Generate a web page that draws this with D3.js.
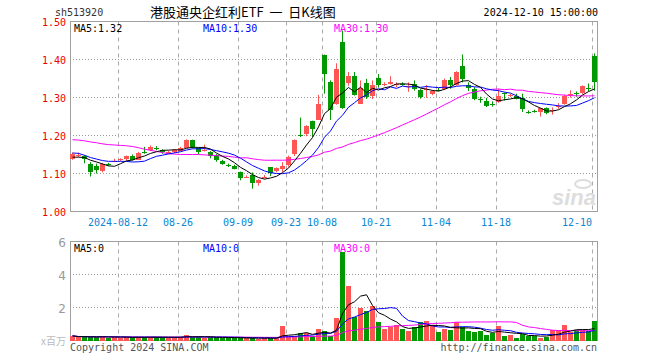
<!DOCTYPE html>
<html>
<head>
<meta charset="utf-8">
<script src="https://cdn.jsdelivr.net/npm/d3@7"></script>
<style>
  body { margin: 0; background: #fff; }
  svg text { font-family: "DejaVu Sans Mono", monospace; font-size: 10px; }
</style>
</head>
<body>
<div id="chart"></div>
<script>
// daily candles, 2024-07-31 .. 2024-12-10
var dates = ["07-31","08-01","08-02","08-05","08-06","08-07","08-08","08-09","08-12","08-13",
  "08-14","08-15","08-16","08-19","08-20","08-21","08-22","08-23","08-26","08-27",
  "08-28","08-29","08-30","09-02","09-03","09-04","09-05","09-06","09-09","09-10",
  "09-11","09-12","09-13","09-18","09-19","09-20","09-23","09-24","09-25","09-26",
  "09-27","09-30","10-08","10-09","10-10","10-11","10-14","10-15","10-16","10-17",
  "10-18","10-21","10-22","10-23","10-24","10-25","10-28","10-29","10-30","10-31",
  "11-01","11-04","11-05","11-06","11-07","11-08","11-11","11-12","11-13","11-14",
  "11-15","11-18","11-19","11-20","11-21","11-22","11-25","11-26","11-27","11-28",
  "11-29","12-02","12-03","12-04","12-05","12-06","12-09","12-10"]
var opens = [1.139,1.149,1.146,1.124,1.119,1.108,1.125,1.133,1.136,1.136,
  1.147,1.137,1.157,1.162,1.168,1.162,1.156,1.156,1.161,1.169,
  1.187,1.166,1.161,1.157,1.149,1.134,1.122,1.121,1.103,1.091,
  1.095,1.075,1.091,1.117,1.105,1.112,1.121,1.150,1.201,1.204,
  1.239,1.241,1.413,1.340,1.283,1.447,1.338,1.356,1.285,1.338,
  1.305,1.352,1.334,1.336,1.334,1.336,1.328,1.336,1.320,1.322,
  1.308,1.321,1.323,1.347,1.333,1.382,1.334,1.323,1.296,1.292,
  1.284,1.288,1.311,1.305,1.305,1.298,1.261,1.265,1.261,1.272,
  1.265,1.277,1.283,1.308,1.311,1.311,1.325,1.408]
var closes = [1.152,1.150,1.139,1.103,1.108,1.126,1.124,1.134,1.137,1.145,
  1.137,1.155,1.156,1.171,1.167,1.156,1.157,1.162,1.168,1.189,
  1.169,1.155,1.162,1.147,1.136,1.125,1.121,1.113,1.086,1.092,
  1.073,1.083,1.092,1.101,1.114,1.121,1.143,1.187,1.200,1.224,
  1.219,1.283,1.362,1.266,1.374,1.274,1.356,1.305,1.326,1.301,
  1.333,1.333,1.335,1.342,1.335,1.335,1.329,1.323,1.301,1.323,
  1.317,1.320,1.347,1.333,1.367,1.349,1.326,1.297,1.295,1.279,
  1.283,1.303,1.310,1.306,1.297,1.268,1.260,1.264,1.272,1.259,
  1.266,1.278,1.305,1.309,1.310,1.330,1.324,1.340]
var highs = [1.155,1.155,1.148,1.130,1.126,1.128,1.128,1.139,1.140,1.147,
  1.150,1.157,1.170,1.174,1.172,1.164,1.160,1.164,1.170,1.190,
  1.189,1.168,1.176,1.159,1.151,1.136,1.126,1.123,1.105,1.095,
  1.103,1.085,1.096,1.117,1.116,1.130,1.147,1.190,1.247,1.227,
  1.239,1.307,1.413,1.345,1.390,1.476,1.367,1.367,1.345,1.349,
  1.345,1.362,1.340,1.356,1.340,1.340,1.340,1.345,1.322,1.333,
  1.320,1.325,1.350,1.354,1.369,1.413,1.340,1.327,1.302,1.299,
  1.290,1.323,1.313,1.310,1.310,1.310,1.266,1.268,1.272,1.274,
  1.274,1.285,1.307,1.319,1.316,1.332,1.337,1.416]
var lows = [1.136,1.143,1.127,1.092,1.100,1.103,1.120,1.130,1.133,1.134,
  1.134,1.135,1.152,1.159,1.161,1.152,1.152,1.154,1.159,1.167,
  1.166,1.151,1.158,1.140,1.131,1.123,1.117,1.111,1.082,1.088,
  1.060,1.068,1.087,1.093,1.103,1.104,1.118,1.146,1.196,1.198,
  1.196,1.241,1.310,1.241,1.281,1.270,1.331,1.305,1.283,1.296,
  1.296,1.326,1.330,1.334,1.327,1.331,1.315,1.318,1.297,1.299,
  1.306,1.317,1.320,1.323,1.331,1.340,1.317,1.293,1.286,1.275,
  1.276,1.286,1.292,1.301,1.295,1.262,1.257,1.260,1.250,1.256,
  1.255,1.270,1.281,1.300,1.302,1.309,1.316,1.318]
// volume, millions
var volumes = [0.28,0.20,0.22,0.20,0.20,0.28,0.18,0.20,0.18,0.20,
  0.20,0.20,0.20,0.20,0.20,0.20,0.18,0.20,0.20,0.36,
  0.20,0.20,0.18,0.20,0.20,0.18,0.15,0.15,0.15,0.15,
  0.15,0.12,0.15,0.15,0.15,0.85,0.30,0.30,0.48,0.48,
  0.30,0.67,0.55,0.25,1.35,5.35,3.33,1.45,1.96,1.76,
  2.12,1.11,0.69,0.81,0.91,0.69,0.57,0.81,1.11,1.21,
  0.91,0.50,0.67,0.63,1.15,0.81,0.57,0.50,0.55,0.36,
  0.48,0.85,0.30,0.36,0.18,0.38,0.30,0.28,0.18,0.22,
  0.61,0.61,0.91,0.50,0.65,0.65,0.60,1.21]
// moving averages for the first days (their windows start before the chart)
var ma5Head = [1.143,1.143,1.142,1.135]
var ma10Head = [1.154,1.153,1.148,1.142,1.138,1.134,1.132,1.132,1.132]
var ma30Head = [1.189,1.188,1.186,1.183,1.181,1.178,1.176,1.175,1.174,1.173,
  1.171,1.168,1.164,1.161,1.158,1.155,1.152,1.151,1.150,1.150,
  1.150,1.150,1.149,1.148,1.147,1.146,1.145,1.143,1.141]
var tickDates = ["08-12","08-26","09-09","09-23","10-08","10-21","11-04","11-18","12-10"]
var tickLabels = ["2024-08-12","08-26","09-09","09-23","10-08","10-21","11-04","11-18","12-10"]
var priceTicks = [1.0, 1.1, 1.2, 1.3, 1.4, 1.5]
var volTicks = [2, 4, 6]

var W = 660, H = 360
var UP = "#ff5555", DOWN = "#009900"
var MA_COL = {5: "#000000", 10: "#0000ff", 30: "#ff00ff"}

function movAvg(arr, n, head) {
  return arr.map(function(v, i) {
    if (i >= n - 1) return d3.mean(arr.slice(i - n + 1, i + 1))
    if (head) return head[i]
    return d3.mean(arr.slice(0, i + 1))
  })
}

var svg = d3.select("#chart").append("svg").attr("width", W).attr("height", H)

var x = d3.scaleBand().domain(dates).range([70, 598]).padding(0)
var y = d3.scaleLinear().domain([1.0, 1.5]).range([211.5, 21.5])
var yv = d3.scaleLinear().domain([0, 6]).range([340.5, 241.5])

var idx = d3.range(dates.length)
function colorOf(i) { return closes[i] >= opens[i] ? UP : DOWN }

// header
svg.append("text").attr("x", 55).attr("y", 16).attr("fill", "#333").text("sh513920")
svg.append("text").attr("x", 150).attr("y", 17)
  .style("font-family", "'Noto Sans CJK SC', sans-serif").style("font-size", "13px")
  .text("港股通央企红利ETF\u00a0\u00a0一\u00a0\u00a0日K线图")
svg.append("text").attr("x", 598).attr("y", 16).attr("text-anchor", "end").text("2024-12-10 15:00:00")

function panel(top, bottom, yScale, ticks) {
  var g = svg.append("g")
  g.selectAll(".hg").data(ticks.filter(function(t) { return yScale(t) > top + 1 && yScale(t) < bottom - 1 }))
    .enter().append("line")
    .attr("x1", 70).attr("x2", 597).attr("y1", function(t) { return yScale(t) }).attr("y2", function(t) { return yScale(t) })
    .attr("stroke", "#999").attr("stroke-dasharray", "1,2")
  g.selectAll(".vg").data(tickDates).enter().append("line")
    .attr("x1", function(d) { return x(d) + 0.5 }).attr("x2", function(d) { return x(d) + 0.5 })
    .attr("y1", top).attr("y2", bottom)
    .attr("stroke", "#aaa").attr("stroke-dasharray", "4,4")
  g.append("rect").attr("x", 70.5).attr("y", top).attr("width", 527).attr("height", bottom - top)
    .attr("fill", "none").attr("stroke", "#a0a0a0")
}
panel(21.5, 211.5, y, priceTicks)
panel(241.5, 340.5, yv, volTicks)

// price labels
svg.selectAll(".pl").data(priceTicks).enter().append("text")
  .attr("x", 66).attr("y", function(t) { return y(t) + 4 }).attr("text-anchor", "end")
  .attr("fill", "#ee0000").text(function(t) { return t.toFixed(2) })

// date labels
svg.selectAll(".dl").data(tickDates).enter().append("text")
  .attr("x", function(d, i) { return Math.min(x(d), 592 - tickLabels[i].length * 3) })
  .attr("y", 226).attr("text-anchor", "middle").attr("fill", "#0a86d2")
  .text(function(d, i) { return tickLabels[i] })

// watermark
svg.append("text").attr("x", 596).attr("y", 205).attr("text-anchor", "end")
  .style("font-family", "'Liberation Sans', sans-serif").style("font-size", "22px")
  .style("font-weight", "bold").style("font-style", "italic").attr("fill", "#dddddd").text("sina")
svg.append("ellipse").attr("cx", 583).attr("cy", 184).attr("rx", 8).attr("ry", 4)
  .attr("fill", "none").attr("stroke", "#dddddd").attr("stroke-width", 2)

// candles
var c = svg.append("g")
c.selectAll(".wick").data(idx).enter().append("line")
  .attr("x1", function(i) { return x(dates[i]) + 2.5 }).attr("x2", function(i) { return x(dates[i]) + 2.5 })
  .attr("y1", function(i) { return y(highs[i]) }).attr("y2", function(i) { return y(lows[i]) })
  .attr("stroke", colorOf)
c.selectAll(".body").data(idx).enter().append("rect")
  .attr("x", function(i) { return x(dates[i]) })
  .attr("y", function(i) { return Math.round(y(Math.max(opens[i], closes[i]))) })
  .attr("width", 5)
  .attr("height", function(i) { return Math.max(1, Math.round(Math.abs(y(opens[i]) - y(closes[i])))) })
  .attr("fill", colorOf).attr("shape-rendering", "crispEdges")

// price MAs
var ma = {5: movAvg(closes, 5, ma5Head), 10: movAvg(closes, 10, ma10Head), 30: movAvg(closes, 30, ma30Head)}
var line = d3.line().x(function(i) { return x(dates[i]) + 2.5 })
;[30, 10, 5].forEach(function(n) {
  svg.append("path").datum(idx)
    .attr("d", line.y(function(i) { return y(ma[n][i]) }))
    .attr("fill", "none").attr("stroke", MA_COL[n]).attr("stroke-width", 1)
})
var last = dates.length - 1
svg.append("text").attr("x", 74).attr("y", 32).attr("fill", MA_COL[5]).text("MA5:" + ma[5][last].toFixed(2))
svg.append("text").attr("x", 203).attr("y", 32).attr("fill", MA_COL[10]).text("MA10:" + ma[10][last].toFixed(2))
svg.append("text").attr("x", 334).attr("y", 32).attr("fill", MA_COL[30]).text("MA30:" + ma[30][last].toFixed(2))

// volume
svg.append("g").selectAll("rect").data(idx).enter().append("rect")
  .attr("x", function(i) { return x(dates[i]) })
  .attr("y", function(i) { return Math.round(yv(volumes[i])) })
  .attr("width", 5)
  .attr("height", function(i) { return 340.5 - Math.round(yv(volumes[i])) })
  .attr("fill", colorOf).attr("shape-rendering", "crispEdges")
var vma = {5: movAvg(volumes, 5), 10: movAvg(volumes, 10), 30: movAvg(volumes, 30)}
;[30, 10, 5].forEach(function(n) {
  svg.append("path").datum(idx)
    .attr("d", line.y(function(i) { return yv(vma[n][i]) }))
    .attr("fill", "none").attr("stroke", MA_COL[n]).attr("stroke-width", 1)
})
svg.append("text").attr("x", 74).attr("y", 252).attr("fill", MA_COL[5]).text("MA5:0")
svg.append("text").attr("x", 203).attr("y", 252).attr("fill", MA_COL[10]).text("MA10:0")
svg.append("text").attr("x", 334).attr("y", 252).attr("fill", MA_COL[30]).text("MA30:0")

svg.selectAll(".vl").data(volTicks).enter().append("text")
  .attr("x", 66).attr("y", function(t) { return yv(t) + 5 }).attr("text-anchor", "end")
  .style("font-family", "'DejaVu Sans', sans-serif").style("font-size", "12px")
  .attr("fill", "#999").text(function(t) { return t })
svg.append("text").attr("x", 66).attr("y", 345).attr("text-anchor", "end")
  .style("font-family", "'Noto Sans CJK SC', sans-serif").style("font-size", "10px")
  .attr("fill", "#bbb").text("x百万")

svg.append("text").attr("x", 70).attr("y", 351).attr("fill", "#555").text("Copyright 2024 SINA.COM")
svg.append("text").attr("x", 597).attr("y", 351).attr("text-anchor", "end").attr("fill", "#555").text("http://finance.sina.com.cn")
</script>
</body>
</html>
